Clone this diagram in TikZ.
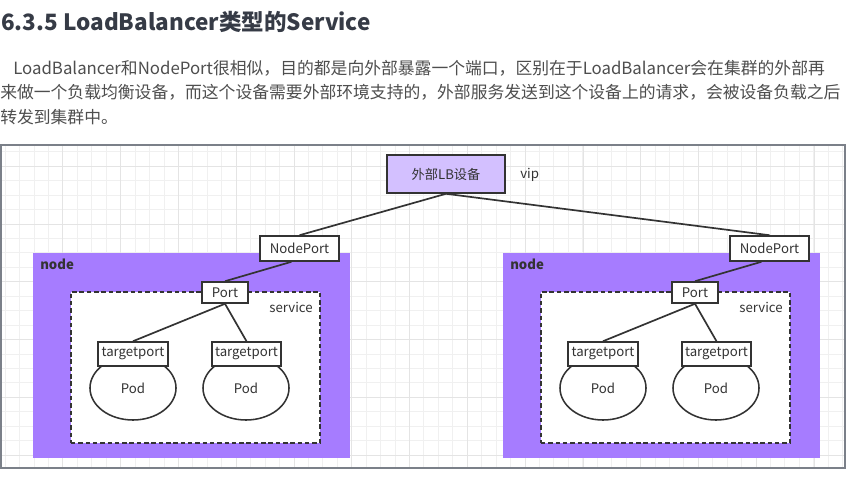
\documentclass[tikz,border=0pt]{standalone}
\usepackage{fontspec}
\setmainfont{Noto Sans CJK SC}
\usetikzlibrary{shapes.geometric}
\definecolor{lbfill}{HTML}{D3C0FF}
\definecolor{hostfill}{HTML}{A67CFF}
\definecolor{gridminor}{HTML}{F0F0F0}
\definecolor{gridmajor}{HTML}{E4E4E4}
\definecolor{framecolor}{HTML}{7B8089}
\definecolor{headcolor}{HTML}{363B46}
\definecolor{bodycolor}{HTML}{4E4E4E}
\definecolor{inkcolor}{HTML}{333333}
\tikzset{
  labelfont/.style={font=\fontsize{9.4}{11}\selectfont, text=inkcolor},
  bodyfont/.style={font=\fontsize{11.95}{15}\selectfont, text=bodycolor},
  portbox/.style={labelfont, draw=inkcolor, line width=1.1pt, fill=white, inner sep=0pt},
  hostbox/.style={fill=hostfill, inner sep=0pt},
  svcbox/.style={draw=inkcolor, line width=1.1pt, dash pattern=on 3.2pt off 2pt, fill=white, inner sep=0pt},
  podshape/.style={labelfont, ellipse, draw=inkcolor, line width=1.1pt, fill=white, inner sep=0pt, minimum width=2.15cm, minimum height=1.6cm},
  wire/.style={draw=inkcolor, line width=1.2pt}
}
\begin{document}
\begin{tikzpicture}[x=0.025cm,y=-0.025cm]
\useasboundingbox[fill=white] (0,0) rectangle (848,497);

\node[anchor=west, inner sep=0pt, text=headcolor, font=\fontsize{16}{19}\selectfont\bfseries] (title) at (1,22) {6.3.5 LoadBalancer类型的Service};
\node[bodyfont, anchor=west, inner sep=0pt] (line1) at (13,68) {LoadBalancer和NodePort很相似，目的都是向外部暴露一个端口，区别在于LoadBalancer会在集群的外部再};
\node[bodyfont, anchor=west, inner sep=0pt] (line2) at (0,92) {来做一个负载均衡设备，而这个设备需要外部环境支持的，外部服务发送到这个设备上的请求，会被设备负载之后};
\node[bodyfont, anchor=west, inner sep=0pt] (line3) at (0,117) {转发到集群中。};

\foreach \gx in {5,19.44,...,845} \draw[gridminor, line width=0.4pt] (\gx,146) -- (\gx,467);
\foreach \gy in {151.7,166.14,...,467} \draw[gridminor, line width=0.4pt] (2,\gy) -- (844,\gy);
\foreach \gx in {62.8,120.6,...,845} \draw[gridmajor, line width=0.5pt] (\gx,146) -- (\gx,467);
\foreach \gy in {166.1,223.9,...,467} \draw[gridmajor, line width=0.5pt] (2,\gy) -- (844,\gy);
\draw[framecolor, line width=1pt] (1,145) rectangle (845,468);

\node[portbox, fill=lbfill, minimum width=2.95cm, minimum height=0.95cm] (lb) at (446,174) {外部LB设备};
\node[labelfont, anchor=west, inner sep=0pt] (vip) at (520,175) {vip};

\foreach \s/\dx in {a/0,b/470}{
  \node[hostbox, minimum width=7.925cm, minimum height=5.125cm] (host\s) at (191.5+\dx,355.5) {};
  \node[labelfont, font=\fontsize{9.4}{11}\selectfont\bfseries, anchor=west, inner sep=0pt] (hostname\s) at (40+\dx,264) {node};
  \node[svcbox, minimum width=6.225cm, minimum height=3.775cm] (svc\s) at (195.5+\dx,367.5) {};
  \node[labelfont, inner sep=0pt] (svcname\s) at (291+\dx,307) {service};
  \node[podshape] (poda\s) at (133+\dx,388) {Pod};
  \node[podshape] (podb\s) at (246+\dx,388) {Pod};
  \node[portbox, minimum width=1.75cm, minimum height=0.6cm] (tpa\s) at (133+\dx,354) {targetport};
  \node[portbox, minimum width=1.725cm, minimum height=0.6cm] (tpb\s) at (246.5+\dx,354) {targetport};
  \node[portbox, minimum width=1.15cm, minimum height=0.525cm] (port\s) at (225+\dx,292.5) {Port};
  \node[portbox, minimum width=1.975cm, minimum height=0.625cm] (np\s) at (299.5+\dx,248.5) {NodePort};
  \draw[wire] (lb.south) -- (np\s.north);
  \draw[wire] ([xshift=-0.2cm]np\s.south) -- (port\s.north);
  \draw[wire] (port\s.south) -- (tpa\s.north);
  \draw[wire] (port\s.south) -- (tpb\s.north);
}
\end{tikzpicture}
\end{document}
